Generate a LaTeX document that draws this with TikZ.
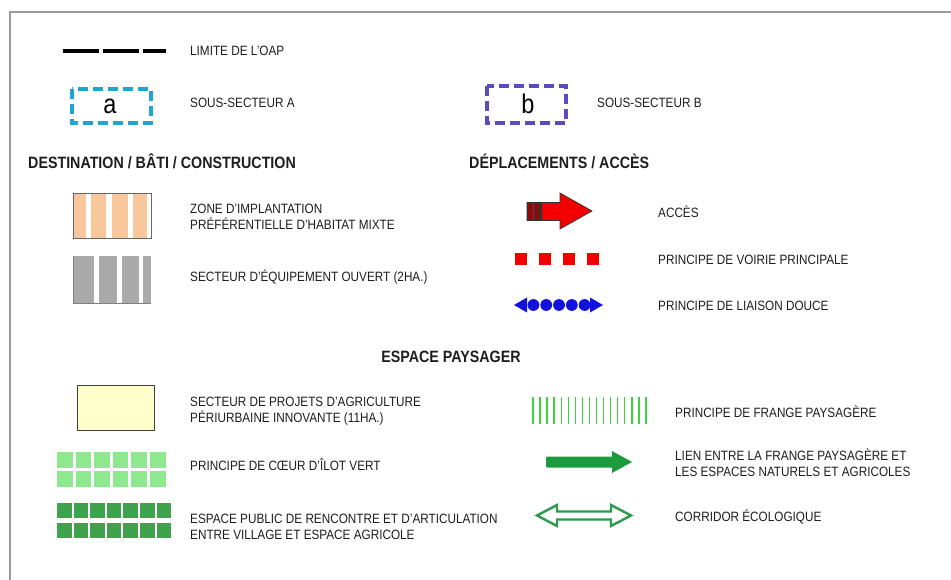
\documentclass[tikz,border=0pt]{standalone}
\usepackage{fontspec}
\setmainfont{Liberation Sans}[FakeStretch=0.87]
\definecolor{txt}{HTML}{1E1E1E}
\definecolor{frame}{HTML}{9A9A9A}
\definecolor{cyanA}{HTML}{1EA6D2}
\definecolor{purpB}{HTML}{5A4BBE}
\definecolor{orng}{HTML}{F8C79C}
\definecolor{gryb}{HTML}{AAAAAA}
\definecolor{redA}{HTML}{F20000}
\definecolor{dkred}{HTML}{8C0A0A}
\definecolor{blueL}{HTML}{1212DC}
\definecolor{yel}{HTML}{FFFFCC}
\definecolor{ltgreen}{HTML}{8EE88E}
\definecolor{mdgreen}{HTML}{3FA34D}
\definecolor{frgreen}{HTML}{3CD43C}
\definecolor{arrgreen}{HTML}{1C9A3E}
\definecolor{corgreen}{HTML}{2E9A4E}
\tikzset{
  lbl/.style={anchor=base west, inner sep=0pt, text=txt, font=\fontsize{13.5}{15}\selectfont},
  hd/.style={anchor=base west, inner sep=0pt, text=txt, font=\bfseries\fontsize{16.4}{18}\selectfont},
  dashbox/.style={line width=4pt, dash pattern=on 10pt off 5pt},
}
\begin{document}
\begin{tikzpicture}[x=1pt,y=-1pt]
\useasboundingbox (0,0) rectangle (951,580);
\fill[white] (0,0) rectangle (951,580);
% frame
\draw[frame, line width=1.3pt] (951,12) -- (10,12) -- (10,580);

% limite OAP
\draw[black, line width=3.5pt] (63,51) -- (99,51);
\draw[black, line width=3.5pt] (103,51) -- (139,51);
\draw[black, line width=3.5pt] (143,51) -- (166,51);
\node[lbl] (limite) at (190,56) {LIMITE DE L'OAP};

% sous-secteur A
\draw[cyanA, dashbox] (72,89) rectangle (151,123);
\node[inner sep=0pt, font=\fontsize{27}{27}\selectfont, text=black] (la) at (110,106) {a};
\node[lbl] (ssa) at (190,108) {SOUS-SECTEUR A};

% sous-secteur B
\draw[purpB, dashbox] (487,86) rectangle (566,123);
\node[inner sep=0pt, font=\fontsize{27}{27}\selectfont, text=black] (lb) at (528,104) {b};
\node[lbl] (ssb) at (597,108) {SOUS-SECTEUR B};

% headings
\node[hd] (h1) at (28,169) {DESTINATION / BÂTI / CONSTRUCTION};
\node[hd] (h2) at (469,169) {DÉPLACEMENTS / ACCÈS};
\node[hd, anchor=base] (h3) at (451,362.5) {ESPACE PAYSAGER};

% zone habitat mixte
\fill[orng] (74,193) rectangle (86,238);
\fill[orng] (91,193) rectangle (106,238);
\fill[orng] (112,193) rectangle (128,238);
\fill[orng] (133,193) rectangle (147,238);
\draw[gray!80!black, line width=0.8pt] (73,193) rectangle (151,238);
\node[lbl] (zone1) at (190,214) {ZONE D'IMPLANTATION};
\node[lbl] (zone2) at (190,230) {PRÉFÉRENTIELLE D'HABITAT MIXTE};

% equipement ouvert
\fill[gryb] (74,256) rectangle (94,303);
\fill[gryb] (99,256) rectangle (117,303);
\fill[gryb] (122,256) rectangle (139,303);
\fill[gryb] (143,256) rectangle (151,303);
\draw[gray, line width=0.6pt] (73,256) -- (73,303) -- (151,303);
\node[lbl] (equip) at (190,282) {SECTEUR D'ÉQUIPEMENT OUVERT (2HA.)};

% acces arrow
\filldraw[fill=redA, draw=black!80, line width=0.7pt]
  (527,202.5) -- (560,202.5) -- (560,193) -- (592,211) -- (560,229) -- (560,220.5) -- (527,220.5) -- cycle;
\filldraw[fill=dkred, draw=black!80, line width=0.8pt] (527,202.5) rectangle (532.5,220.5);
\filldraw[fill=dkred, draw=black!80, line width=0.8pt] (534,202.5) rectangle (539.5,220.5);
\draw[black!80, line width=1.2pt] (541,202.5) -- (541,220.5);
\node[lbl] (acces) at (658,218) {ACCÈS};

% voirie principale
\foreach \x in {515,539,563,587} \fill[redA] (\x,253) rectangle (\x+12,265);
\node[lbl] (voirie) at (658,264.5) {PRINCIPE DE VOIRIE PRINCIPALE};

% liaison douce
\fill[blueL] (514,305) -- (527,297.5) -- (527,312.5) -- cycle;
\foreach \x in {533.4,546.2,559,571.8,584.6} \fill[blueL] (\x,305) circle (5.9);
\fill[blueL] (603,305) -- (590,297.5) -- (590,312.5) -- cycle;
\node[lbl] (liaison) at (658,311) {PRINCIPE DE LIAISON DOUCE};

% agriculture periurbaine
\filldraw[fill=yel, draw=black!75, line width=0.8pt] (77,385) rectangle (154,430);
\node[lbl] (agri1) at (190,406) {SECTEUR DE PROJETS D'AGRICULTURE};
\node[lbl] (agri2) at (190,422) {PÉRIURBAINE INNOVANTE (11HA.)};

% coeur d'ilot vert
\foreach \i in {0,...,5} {
  \fill[ltgreen] (57+\i*18.6,452) rectangle (57+\i*18.6+15.5,467.5);
  \fill[ltgreen] (57+\i*18.6,471) rectangle (57+\i*18.6+15.5,486.5);
}
\node[lbl] (coeur) at (190,470) {PRINCIPE DE CŒUR D'ÎLOT VERT};

% espace public
\foreach \i in {0,...,6} {
  \fill[mdgreen] (57+\i*16.6,503) rectangle (57+\i*16.6+14.5,518);
  \fill[mdgreen] (57+\i*16.6,523) rectangle (57+\i*16.6+14.5,538);
}
\node[lbl] (pub1) at (190,523) {ESPACE PUBLIC DE RENCONTRE ET D'ARTICULATION};
\node[lbl] (pub2) at (190,539) {ENTRE VILLAGE ET ESPACE AGRICOLE};

% frange paysagere
\foreach \i in {0,...,16} \draw[frgreen, line width=1.4pt] (533+\i*7.06,397) -- (533+\i*7.06,424);
\node[lbl] (frange) at (675,417) {PRINCIPE DE FRANGE PAYSAGÈRE};

% lien
\fill[arrgreen, rounded corners=1pt] (546,456.5) rectangle (614,467.5);
\fill[arrgreen] (612,451) -- (632,462) -- (612,473) -- cycle;
\node[lbl] (lien1) at (675,460) {LIEN ENTRE LA FRANGE PAYSAGÈRE ET};
\node[lbl] (lien2) at (675,476) {LES ESPACES NATURELS ET AGRICOLES};

% corridor
\draw[corgreen, line width=2.4pt, line join=miter]
  (537,515.5) -- (557,505) -- (557,511.5) -- (611,511.5) -- (611,505) -- (631,515.5)
  -- (611,526) -- (611,519.5) -- (557,519.5) -- (557,526) -- cycle;
\node[lbl] (corridor) at (675,521) {CORRIDOR ÉCOLOGIQUE};
\end{tikzpicture}
\end{document}
